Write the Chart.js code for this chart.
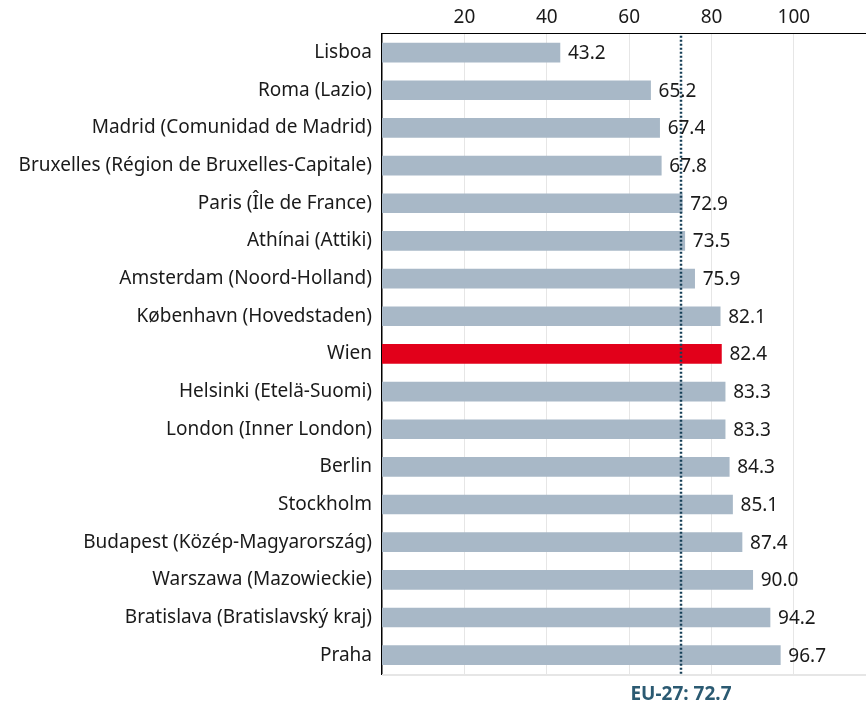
<!DOCTYPE html>
<html>
<head>
<meta charset="utf-8">
<script src="https://cdn.jsdelivr.net/npm/chart.js@4"></script>
<style>
  html, body { margin: 0; padding: 0; background: #fff; }
  #wrap { width: 866px; height: 704px; }
</style>
</head>
<body>
<div id="wrap"><canvas id="chart" width="866" height="704"></canvas></div>
<script>
const cities = [
  'Lisboa',
  'Roma (Lazio)',
  'Madrid (Comunidad de Madrid)',
  'Bruxelles (Région de Bruxelles-Capitale)',
  'Paris (Île de France)',
  'Athínai (Attiki)',
  'Amsterdam (Noord-Holland)',
  'København (Hovedstaden)',
  'Wien',
  'Helsinki (Etelä-Suomi)',
  'London (Inner London)',
  'Berlin',
  'Stockholm',
  'Budapest (Közép-Magyarország)',
  'Warszawa (Mazowieckie)',
  'Bratislava (Bratislavský kraj)',
  'Praha'
];
const values = [43.2, 65.2, 67.4, 67.8, 72.9, 73.5, 75.9, 82.1, 82.4, 83.3, 83.3, 84.3, 85.1, 87.4, 90.0, 94.2, 96.7];
const highlightCity = 'Wien';
const euLabel = 'EU-27';
const euValue = 72.7;
const xTicks = [20, 40, 60, 80, 100];

const FONT = '"Noto Sans", "DejaVu Sans", sans-serif';
const barColors = cities.map(c => c === highlightCity ? '#e2001a' : '#a8b8c7');

// value labels, EU reference line + caption, bottom rule
const extras = {
  id: 'extras',
  afterDatasetsDraw(chart) {
    const { ctx, chartArea, scales } = chart;
    const x = scales.x;

    ctx.save();
    ctx.strokeStyle = '#e6e6e6';
    ctx.lineWidth = 2;
    ctx.beginPath();
    ctx.moveTo(chartArea.left, chartArea.bottom + 1);
    ctx.lineTo(chartArea.right, chartArea.bottom + 1);
    ctx.stroke();

    const ex = Math.round(x.getPixelForValue(euValue));
    ctx.strokeStyle = '#163f57';
    ctx.lineWidth = 2.5;
    ctx.setLineDash([2, 2]);
    ctx.beginPath();
    ctx.moveTo(ex, chartArea.top + 2);
    ctx.lineTo(ex, chartArea.bottom);
    ctx.stroke();
    ctx.setLineDash([]);

    ctx.font = '19px ' + FONT;
    ctx.fillStyle = '#1a1a1a';
    ctx.textBaseline = 'middle';
    ctx.textAlign = 'left';
    const meta = chart.getDatasetMeta(0);
    meta.data.forEach((bar, i) => {
      ctx.fillText(values[i].toFixed(1), bar.x + 8, bar.y + 1);
    });

    ctx.font = 'bold 19px ' + FONT;
    ctx.fillStyle = '#2b5a72';
    ctx.textAlign = 'center';
    ctx.fillText(euLabel + ': ' + euValue.toFixed(1), ex, chartArea.bottom + 21);
    ctx.restore();
  }
};

new Chart(document.getElementById('chart'), {
  type: 'bar',
  data: {
    labels: cities,
    datasets: [{
      data: values,
      backgroundColor: barColors,
      barThickness: 19,
      borderWidth: 0
    }]
  },
  options: {
    indexAxis: 'y',
    responsive: false,
    animation: false,
    layout: { padding: { top: 1, bottom: 30, right: 0, left: 0 } },
    plugins: {
      legend: { display: false },
      tooltip: { enabled: false }
    },
    scales: {
      x: {
        position: 'top',
        min: 0,
        max: 117.5,
        afterBuildTicks(scale) {
          scale.ticks = xTicks.map(v => ({ value: v }));
        },
        grid: { color: '#e6e6e6', lineWidth: 1, drawTicks: false },
        border: { display: true, color: '#000', width: 1 },
        ticks: {
          padding: 5,
          color: '#1a1a1a',
          font: { family: FONT, size: 19 }
        }
      },
      y: {
        grid: { display: false, drawTicks: false },
        border: { display: true, color: '#000', width: 1.5 },
        afterFit(scale) { scale.width = 382; },
        ticks: {
          padding: 10,
          color: '#1a1a1a',
          font: { family: FONT, size: 19 }
        }
      }
    }
  },
  plugins: [extras]
});
</script>
</body>
</html>
